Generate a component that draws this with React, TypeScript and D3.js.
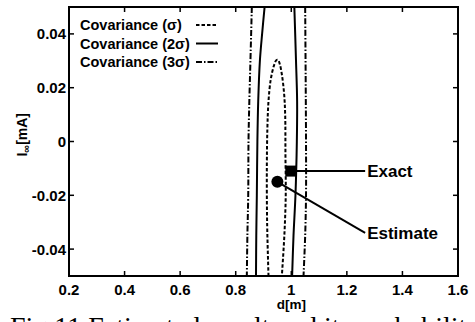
import React from 'react';
import * as d3 from 'd3';

// contour outlines, [d, I]
const sigma1 = [[0.918,-0.05],[0.913,-0.03],[0.912,-0.01],[0.914,0.005],[0.918,0.015],[0.926,0.023],[0.937,0.028],[0.946,0.0302],[0.952,0.0303],[0.958,0.029],[0.966,0.025],[0.974,0.018],[0.978,0.01],[0.979,-0.005],[0.980,-0.02],[0.975,-0.035],[0.966,-0.05]];
const sigma2Left = [[0.904,0.05],[0.895,0.04],[0.887,0.03],[0.881,0.015],[0.878,0],[0.876,-0.02],[0.874,-0.035],[0.873,-0.05]];
const sigma2Right = [[1.011,0.05],[1.017,0.03],[1.021,0.015],[1.020,0],[1.015,-0.02],[1.008,-0.035],[1.003,-0.05]];
const sigma3Left = [[0.858,0.05],[0.853,0.03],[0.849,0.015],[0.846,0],[0.845,-0.02],[0.842,-0.035],[0.840,-0.05]];
const sigma3Right = [[1.050,0.05],[1.052,0.02],[1.053,0],[1.053,-0.02],[1.050,-0.035],[1.044,-0.05]];

const exact = [1.0, -0.011];
const estimate = [0.95, -0.015];

const xTicks = [0.2, 0.4, 0.6, 0.8, 1, 1.2, 1.4, 1.6];
const yTicks = [0.04, 0.02, 0, -0.02, -0.04];
const legendItems = ['Covariance (σ)', 'Covariance (2σ)', 'Covariance (3σ)'];

const DASH = '3.5,2';
const DASHDOT = '6,2,1.5,2';

export default function App() {
  const margin = {top: 7, right: 17, bottom: 46, left: 69};
  const width = 475, height = 322;
  const x = d3.scaleLinear().domain([0.2, 1.6]).range([margin.left, width - margin.right]);
  const y = d3.scaleLinear().domain([-0.05, 0.05]).range([height - margin.bottom, margin.top]);
  const line = d3.line<number[]>().x(d => x(d[0])).y(d => y(d[1])).curve(d3.curveCatmullRom);

  const font = '"Liberation Sans", Arial, sans-serif';
  const x0 = x(0.2), x1 = x(1.6), y0 = y(-0.05), y1 = y(0.05);
  const labelX = x(1.273);

  return (
    <svg width={width} height={height} style={{position: 'absolute', left: 0, top: 0, background: '#fff'}}
         fontFamily={font}>
      <defs>
        <clipPath id="plot"><rect x={x0} y={y1} width={x1 - x0} height={y0 - y1}/></clipPath>
      </defs>

      <g clipPath="url(#plot)" fill="none" stroke="#000" strokeWidth={2}>
        <path d={line(sigma1)!} strokeDasharray={DASH}/>
        <path d={line(sigma2Left)!}/>
        <path d={line(sigma2Right)!}/>
        <path d={line(sigma3Left)!} strokeDasharray={DASHDOT}/>
        <path d={line(sigma3Right)!} strokeDasharray={DASHDOT}/>
      </g>

      {/* frame + inward ticks on all sides */}
      <rect x={x0} y={y1} width={x1 - x0} height={y0 - y1} fill="none" stroke="#000" strokeWidth={2}/>
      {xTicks.map(t => (
        <g key={'x' + t}>
          <line x1={x(t)} x2={x(t)} y1={y0} y2={y0 - 5} stroke="#000" strokeWidth={1.5}/>
          <line x1={x(t)} x2={x(t)} y1={y1} y2={y1 + 5} stroke="#000" strokeWidth={1.5}/>
          <text x={x(t)} y={y0 + 19} textAnchor="middle" fontSize={15} fontWeight="bold">{t}</text>
        </g>
      ))}
      {yTicks.map(t => (
        <g key={'y' + t}>
          <line x1={x0} x2={x0 + 5} y1={y(t)} y2={y(t)} stroke="#000" strokeWidth={1.5}/>
          <line x1={x1} x2={x1 - 5} y1={y(t)} y2={y(t)} stroke="#000" strokeWidth={1.5}/>
          <text x={x0 - 3} y={y(t)} dy="0.36em" textAnchor="end" fontSize={15} fontWeight="bold">{t}</text>
        </g>
      ))}

      {/* legend */}
      {legendItems.map((s, i) => (
        <g key={s}>
          <text x={80} y={30 + i * 18.5} fontSize={14.5} fontWeight="bold">{s}</text>
          <line x1={196} x2={218} y1={25 + i * 18.5} y2={25 + i * 18.5} stroke="#000" strokeWidth={2}
                strokeDasharray={i === 0 ? DASH : i === 2 ? DASHDOT : undefined}/>
        </g>
      ))}

      {/* annotations */}
      <line x1={x(exact[0])} x2={labelX - 2} y1={y(exact[1])} y2={y(exact[1])} stroke="#000" strokeWidth={2}/>
      <line x1={x(estimate[0])} y1={y(estimate[1])} x2={labelX - 2} y2={y(-0.034)} stroke="#000" strokeWidth={2}/>
      <rect x={x(exact[0]) - 6} y={y(exact[1]) - 5.5} width={11} height={11} fill="#000"/>
      <circle cx={x(estimate[0])} cy={y(estimate[1])} r={6} fill="#000"/>
      <text x={labelX} y={y(exact[1])} dy="0.36em" fontSize={17} fontWeight="bold">Exact</text>
      <text x={labelX} y={y(-0.034)} dy="0.36em" fontSize={17} fontWeight="bold">Estimate</text>

      {/* axis titles */}
      <text x={x(1)} y={309} textAnchor="middle" fontSize={13.5} fontWeight="bold">d[m]</text>
      <text transform={`translate(27,${y(0.0025)}) rotate(-90)`} textAnchor="middle" fontSize={14} fontWeight="bold">
        I<tspan fontSize={11} dy={3}>∞</tspan><tspan dy={-3}>[mA]</tspan>
      </text>

      {/* caption, cut off by the page edge in the scan */}
      <text x={10} y={336} fontSize={28} fontFamily='"Liberation Serif", "Times New Roman", serif'>
        Fig.11 Estimated result and its probability
      </text>
    </svg>
  );
}
